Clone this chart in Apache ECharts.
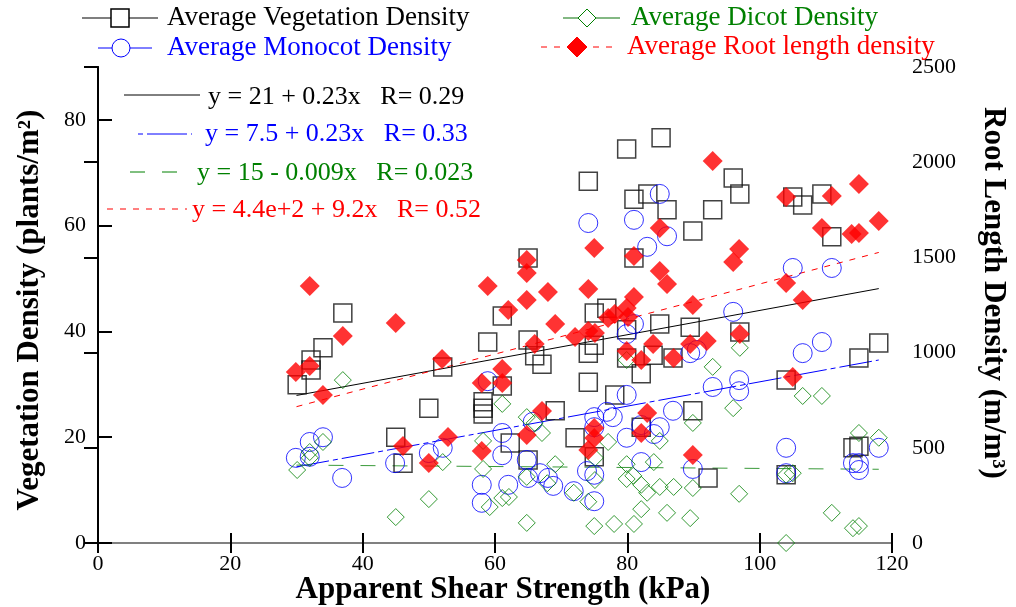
<!DOCTYPE html>
<html><head><meta charset="utf-8">
<script src="https://cdn.jsdelivr.net/npm/echarts@6/dist/echarts.min.js"></script>
<style>html,body{margin:0;padding:0;background:#fff}#c{width:1016px;height:607px}</style>
</head><body><div id="c"></div><script>
// ---- data ----
const xTickValues = [0, 20, 40, 60, 80, 100, 120];
const leftTickValues = [0, 20, 40, 60, 80];
const rightTickValues = [0, 500, 1000, 1500, 2000, 2500];

const vegetation = [
 [30.1,29.9],[32.2,34.6],[32.2,32.7],[34.0,36.9],[37.0,43.5],[45.0,20.0],[46.1,15.1],[50.0,25.5],
 [52.1,33.3],[58.2,26.7],[58.2,25.5],[58.2,24.4],[58.9,38.0],[61.1,42.9],[61.1,29.7],[62.3,18.9],
 [65.0,53.9],[65.0,38.4],[65.0,15.7],[66.0,35.4],[67.1,33.8],[69.1,25.0],[72.1,19.9],[74.1,68.4],
 [74.1,35.9],[74.1,30.4],[75.0,43.5],[75.0,37.4],[75.0,16.3],[76.9,44.4],[78.1,28.0],[79.9,74.5],
 [79.9,40.3],[79.9,35.0],[81.0,65.0],[81.0,53.9],[82.1,32.0],[82.1,21.9],[83.1,66.0],[83.9,35.5],
 [84.9,41.4],[85.1,76.6],[86.0,63.0],[86.9,35.0],[89.5,40.8],[89.9,59.0],[89.9,25.0],[92.2,12.3],
 [92.9,63.0],[96.0,69.0],[97.0,66.0],[97.0,39.9],[104.0,30.8],[104.0,12.9],[105.0,65.4],[106.5,63.9],
 [109.4,66.0],[110.9,57.9],[114.1,18.0],[115.0,18.3],[115.0,35.0],[118.0,37.8]
];
const monocot = [
 [29.9,16.1],[32.0,19.1],[32.0,16.3],[34.0,20.0],[36.9,12.3],[44.9,15.1],[50.0,17.0],[52.1,18.0],
 [58.0,11.0],[58.0,7.6],[58.9,30.6],[61.1,20.8],[61.1,16.6],[62.0,11.0],[64.8,15.7],[65.7,22.9],
 [65.0,12.3],[66.8,13.2],[68.0,12.3],[68.8,10.8],[71.9,9.8],[73.9,13.6],[74.1,60.5],[75.0,23.8],
 [75.0,21.9],[75.0,12.9],[75.0,7.9],[76.9,24.8],[77.8,23.8],[79.9,39.5],[79.9,28.0],[79.9,19.9],
 [81.0,61.1],[81.0,41.4],[82.1,22.3],[82.1,15.3],[83.0,56.0],[84.0,20.6],[84.9,66.0],[84.9,21.9],
 [86.0,58.0],[86.9,25.0],[89.5,35.9],[90.5,36.5],[89.9,14.0],[92.9,29.5],[96.0,43.7],[96.9,30.8],
 [96.9,28.7],[104.0,18.0],[104.0,13.2],[105.0,52.0],[106.5,35.9],[109.4,38.0],[110.9,52.0],
 [114.1,15.1],[115.0,15.1],[115.0,13.8],[118.0,18.0]
];
const dicot = [
 [30.1,13.8],[32.0,17.2],[32.0,16.1],[34.0,19.1],[37.0,30.8],[45.0,4.9],[50.0,8.3],[52.1,15.3],
 [58.2,19.3],[58.2,14.0],[59.2,6.8],[61.1,26.3],[61.1,8.5],[62.1,8.7],[64.8,23.8],[64.8,12.5],
 [64.8,3.8],[66.0,22.7],[67.1,20.8],[67.9,11.3],[69.1,14.9],[71.9,9.5],[74.1,7.8],[75.0,3.2],
 [75.1,16.1],[75.1,11.9],[77.1,19.1],[78.0,3.6],[79.9,34.6],[79.9,14.9],[79.9,12.1],[80.9,12.7],
 [81.0,3.6],[82.1,11.0],[82.1,6.4],[83.0,9.5],[84.0,15.3],[84.9,19.3],[84.9,10.6],[86.0,5.7],
 [87.0,10.6],[89.5,4.7],[89.9,22.7],[89.9,10.4],[92.9,33.3],[96.0,25.5],[97.0,36.9],[96.9,9.3],
 [104.0,12.9],[104.0,0.0],[105.0,13.2],[106.5,27.8],[109.4,27.8],[110.9,5.7],[114.1,2.8],
 [115.0,3.2],[115.0,20.8],[118.0,19.9]
];
const rootLength = [
 [29.9,898],[32.0,930],[32.0,1350],[34.0,777],[37.0,1087],[45.0,1155],[46.1,509],[50.0,420],
 [52.0,966],[52.9,557],[58.0,840],[58.0,483],[58.9,1350],[61.1,914],[61.1,840],[62.0,1224],
 [64.8,1486],[64.8,1418],[64.8,1276],[64.8,567],[66.0,1045],[67.1,693],[68.0,1318],[69.1,1150],
 [72.1,1082],[74.1,1334],[74.1,1113],[74.1,488],[75.0,1549],[75.0,604],[75.0,551],[75.1,1103],
 [77.1,1182],[78.1,1203],[79.9,1234],[80.1,1187],[79.9,1008],[81.0,1507],[81.0,1292],[82.1,961],
 [82.1,578],[83.0,683],[83.9,1045],[84.9,1654],[84.9,1429],[86.0,1360],[87.0,972],[89.5,1045],
 [89.9,1250],[89.9,462],[92.0,1061],[92.9,2006],[96.0,1476],[96.9,1544],[97.0,1098],[104.0,1366],
 [105.0,872],[106.5,1276],[109.4,1654],[110.9,1822],[104.0,1817],[113.9,1623],[115.0,1628],
 [115.0,1886],[118.0,1691]
];
// regression lines (endpoints, from the fitted equations shown in the chart)
const fitVegetation = [[30, 27.9], [118, 48.1]];
const fitMonocot = [[30, 14.4], [118, 34.6]];
const fitDicot = [[30, 14.73], [118, 13.94]];
const fitRoot = [[30, 716], [118, 1526]];

const seriesNames = ['Average Vegetation Density','Average Dicot Density','Average Monocot Density','Average Root length density'];
const fitTexts = ['y = 21 + 0.23x   R= 0.29','y = 7.5 + 0.23x   R= 0.33','y = 15 - 0.009x   R= 0.023','y = 4.4e+2 + 9.2x   R= 0.52'];
const axisTitles = ['Apparent Shear Strength (kPa)','Vegetation Density (plants/m²)','Root Length Density (m/m³)'];

// ---- styling ----
const FONT = "'Liberation Serif','Times New Roman',serif";
const BLACK = '#000', BLUE = '#0000ff', GREEN = '#008000', RED = '#ff0000';
const DASH_BLUE = [33, 4, 5, 4], DASH_GREEN = [15, 17], DASH_RED = [6, 7];

const chart = echarts.init(document.getElementById('c'), null, {renderer: 'canvas'});
const hollow = 'rgba(0,0,0,0)';

function txt(x, y, text, color, size, opts) {
  opts = opts || {};
  return {type: 'text', x: x, y: y, rotation: opts.rotation || 0, z: 100,
    style: {text: text, fill: color, fontFamily: FONT, fontSize: size, fontWeight: opts.bold ? 'bold' : 'normal',
      textAlign: opts.align || 'left', textVerticalAlign: 'middle', align: opts.align || 'left', verticalAlign: 'middle'}};
}
function seg(x1, x2, y, color, dash, w) {
  return {type: 'line', z: 100, shape: {x1: x1, y1: y, x2: x2, y2: y},
    style: {stroke: color, lineWidth: w || 1, lineDash: dash || null}};
}
function diamondPts(cx, cy, r) { return [[cx, cy - r], [cx + r, cy], [cx, cy + r], [cx - r, cy]]; }

const graphics = [
  // legend row 1
  seg(82, 158, 18, '#555', null, 1.5),
  {type: 'rect', z: 101, shape: {x: 111, y: 9, width: 18, height: 18}, style: {fill: '#fff', stroke: BLACK, lineWidth: 1.5}},
  txt(167, 18, seriesNames[0], BLACK, 27),
  seg(563, 620, 18, '#5aa05a', null, 1.5),
  {type: 'polygon', z: 101, shape: {points: diamondPts(587, 18, 9)}, style: {fill: '#fff', stroke: GREEN, lineWidth: 1}},
  txt(631, 18, seriesNames[1], GREEN, 27),
  // legend row 2
  seg(98, 152, 48, BLUE, null, 1),
  {type: 'circle', z: 101, shape: {cx: 121, cy: 48, r: 9}, style: {fill: '#fff', stroke: BLUE, lineWidth: 1}},
  txt(167, 48, seriesNames[2], BLUE, 27),
  seg(541, 617, 47, RED, DASH_RED, 1),
  {type: 'polygon', z: 101, shape: {points: diamondPts(577, 47, 10)}, style: {fill: RED, stroke: RED, lineWidth: 1}},
  txt(627, 47, seriesNames[3], RED, 27),
  // fit annotations
  seg(124, 200, 95, BLACK, null, 1),
  txt(208, 97, fitTexts[0], BLACK, 26),
  seg(138, 192, 134, BLUE, [5, 4, 40, 4], 1),
  txt(205, 134, fitTexts[1], BLUE, 26),
  seg(130, 187, 172, GREEN, DASH_GREEN, 1),
  txt(197, 173, fitTexts[2], GREEN, 26),
  seg(107, 187, 209, RED, DASH_RED, 1),
  txt(192, 210, fitTexts[3], RED, 26),
  // axis titles
  txt(503, 590, axisTitles[0], BLACK, 31, {bold: true, align: 'center'}),
  txt(30, 310, axisTitles[1], BLACK, 31, {bold: true, align: 'center', rotation: Math.PI / 2}),
  txt(993, 293, axisTitles[2], BLACK, 31, {bold: true, align: 'center', rotation: -Math.PI / 2})
];

const labelStyle = {color: BLACK, fontFamily: FONT, fontSize: 22};
const plain = v => String(v);

const option = {
  animation: false,
  backgroundColor: '#fff',
  grid: {left: 98, right: 124, top: 67, bottom: 64, containLabel: false},
  xAxis: [
    {type: 'value', min: 0, max: 120, interval: 20, position: 'bottom',
      axisLine: {show: true, lineStyle: {color: '#808080', width: 2}},
      axisTick: {show: true, inside: true, length: 10, lineStyle: {color: BLACK, width: 2}},
      axisLabel: {show: true, margin: 10, formatter: plain, ...labelStyle},
      splitLine: {show: false}},
    {type: 'value', min: 0, max: 120, interval: 20, position: 'top',
      axisLine: {show: true, lineStyle: {color: '#808080', width: 2}},
      axisTick: {show: true, inside: true, length: 10, lineStyle: {color: BLACK, width: 2}},
      axisLabel: {show: false}, splitLine: {show: false}}
  ],
  yAxis: [
    {type: 'value', min: 0, max: 90, interval: 20, position: 'left',
      axisLine: {show: true, lineStyle: {color: BLACK, width: 2}},
      axisTick: {show: true, inside: true, length: 14, customValues: leftTickValues, lineStyle: {color: BLACK, width: 2}},
      axisLabel: {show: true, margin: 12, showMaxLabel: false,
        formatter: v => (leftTickValues.indexOf(v) >= 0 ? String(v) : ''), ...labelStyle},
      splitLine: {show: false}},
    {type: 'value', min: 0, max: 2500, interval: 500, position: 'right',
      axisLine: {show: true, lineStyle: {color: BLACK, width: 2}},
      axisTick: {show: true, inside: true, length: 14, lineStyle: {color: BLACK, width: 2}},
      axisLabel: {show: true, margin: 20, formatter: plain, ...labelStyle},
      splitLine: {show: false}}
  ],
  series: [
    {type: 'line', data: fitVegetation, xAxisIndex: 0, yAxisIndex: 0, symbol: 'none', silent: true, z: 2,
      lineStyle: {color: BLACK, width: 1}},
    {type: 'line', data: fitMonocot, xAxisIndex: 0, yAxisIndex: 0, symbol: 'none', silent: true, z: 2,
      lineStyle: {color: BLUE, width: 1, type: DASH_BLUE}},
    {type: 'line', data: fitDicot, xAxisIndex: 0, yAxisIndex: 0, symbol: 'none', silent: true, z: 2,
      lineStyle: {color: '#3a9a3a', width: 1, type: DASH_GREEN}},
    {type: 'line', data: fitRoot, xAxisIndex: 0, yAxisIndex: 1, symbol: 'none', silent: true, z: 2,
      lineStyle: {color: RED, width: 1, type: DASH_RED}},
    {type: 'scatter', name: seriesNames[0], data: vegetation, xAxisIndex: 0, yAxisIndex: 0, symbol: 'rect', symbolSize: 18, z: 3,
      itemStyle: {color: hollow, borderColor: '#111', borderWidth: 1.5}},
    {type: 'scatter', name: seriesNames[2], data: monocot, xAxisIndex: 0, yAxisIndex: 0, symbol: 'circle', symbolSize: 19, z: 4,
      itemStyle: {color: hollow, borderColor: BLUE, borderWidth: 1}},
    {type: 'scatter', name: seriesNames[1], data: dicot, xAxisIndex: 0, yAxisIndex: 0, symbol: 'diamond', symbolSize: 17, z: 5,
      itemStyle: {color: hollow, borderColor: GREEN, borderWidth: 1}},
    {type: 'scatter', name: seriesNames[3], data: rootLength, xAxisIndex: 0, yAxisIndex: 1, symbol: 'diamond', symbolSize: 20, z: 6,
      itemStyle: {color: RED, borderColor: RED, borderWidth: 0}}
  ],
  graphic: graphics
};
chart.setOption(option);
</script></body></html>
